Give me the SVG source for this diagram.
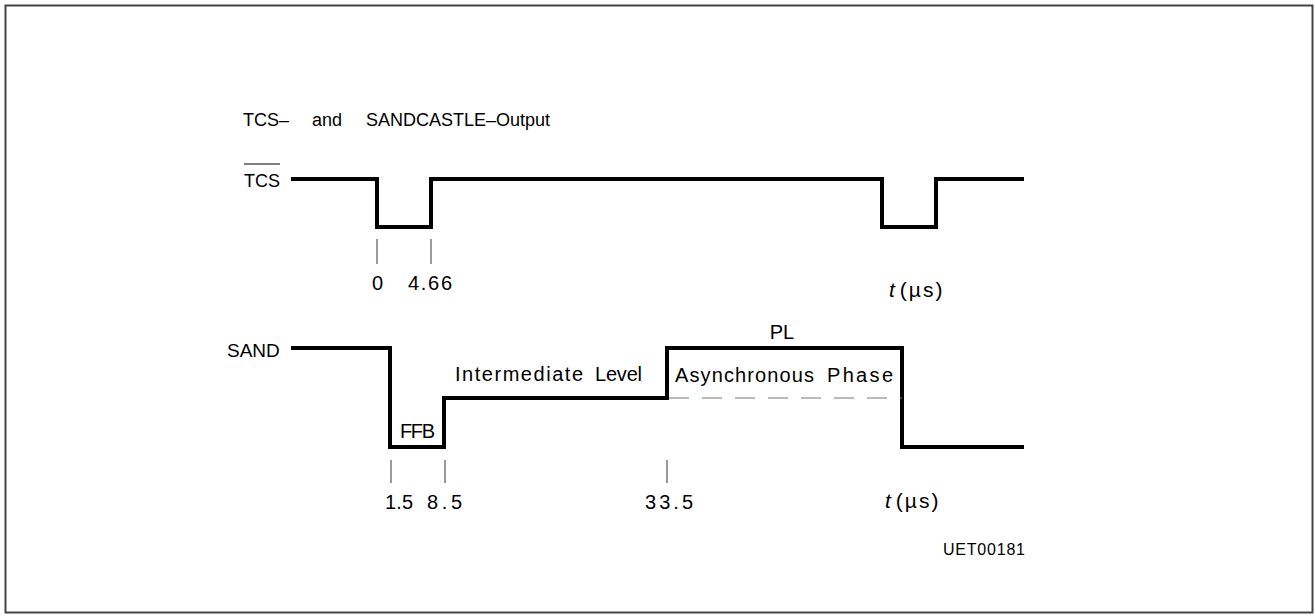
<svg xmlns="http://www.w3.org/2000/svg" width="1315" height="616" viewBox="0 0 1315 616">
<style>
.t{font-family:"Liberation Sans",Arial,sans-serif;font-size:20px;fill:#000}
.sig{fill:none;stroke:#000;stroke-width:4;stroke-linejoin:miter;stroke-linecap:butt}
.tick{stroke:#555;stroke-width:1.2}
.dash{stroke:#777;stroke-width:1.2;stroke-dasharray:20 13}
</style>
<rect x="5.5" y="5.5" width="1307" height="607" fill="#fff" stroke="#444" stroke-width="2"/>
<g id="title"><text class="t" y="126" style="font-size:18px"><tspan x="243">TCS–</tspan><tspan x="312">and</tspan><tspan x="366">SANDCASTLE–Output</tspan></text></g>
<g id="tcs-label"><text class="t" x="244" y="187" style="font-size:18px">TCS</text><line x1="244" y1="164" x2="280" y2="164" stroke="#000" stroke-width="1.2"/></g>
<g id="sand-label"><text class="t" x="227" y="357" style="font-size:19px">SAND</text></g>
<g id="connectors">
<polyline class="sig" points="291,179 377,179 377,227 431,227 431,179 882,179 882,227 936,227 936,179 1024,179"/>
<polyline class="sig" points="291,348 390,348 390,447 444,447 444,398 667,398 667,348 902,348 902,447 1024,447"/>
<line class="dash" x1="669" y1="398" x2="902" y2="398"/>
<line class="tick" x1="377" y1="239" x2="377" y2="264"/>
<line class="tick" x1="431" y1="239" x2="431" y2="264"/>
<line class="tick" x1="391" y1="460" x2="391" y2="483"/>
<line class="tick" x1="445" y1="460" x2="445" y2="483"/>
<line class="tick" x1="667" y1="460" x2="667" y2="483"/>
</g>
<g id="labels">
<text class="t" x="377.5" y="290" text-anchor="middle">0</text>
<text class="t" x="408" y="290" textLength="44">4.66</text>
<text class="t" x="889" y="297" style="font-size:21px;letter-spacing:2px"><tspan font-style="italic">t</tspan><tspan dx="3">(µs)</tspan></text>
<text class="t" x="385" y="509" textLength="28">1.5</text>
<text class="t" x="427" y="509" textLength="35">8.5</text>
<text class="t" x="645" y="509" textLength="48">33.5</text>
<text class="t" x="885" y="508" style="font-size:21px;letter-spacing:2px"><tspan font-style="italic">t</tspan><tspan dx="3">(µs)</tspan></text>
<text class="t" x="400" y="438" textLength="35">FFB</text>
<text class="t" y="381"><tspan x="455" textLength="128">Intermediate</tspan><tspan x="595" textLength="47">Level</tspan></text>
<text class="t" y="382"><tspan x="675" textLength="139">Asynchronous</tspan><tspan x="827" textLength="66">Phase</tspan></text>
<text class="t" x="782" y="339" text-anchor="middle">PL</text>
<text class="t" x="943" y="555" textLength="82" style="font-size:16px">UET00181</text>
</g>
</svg>
